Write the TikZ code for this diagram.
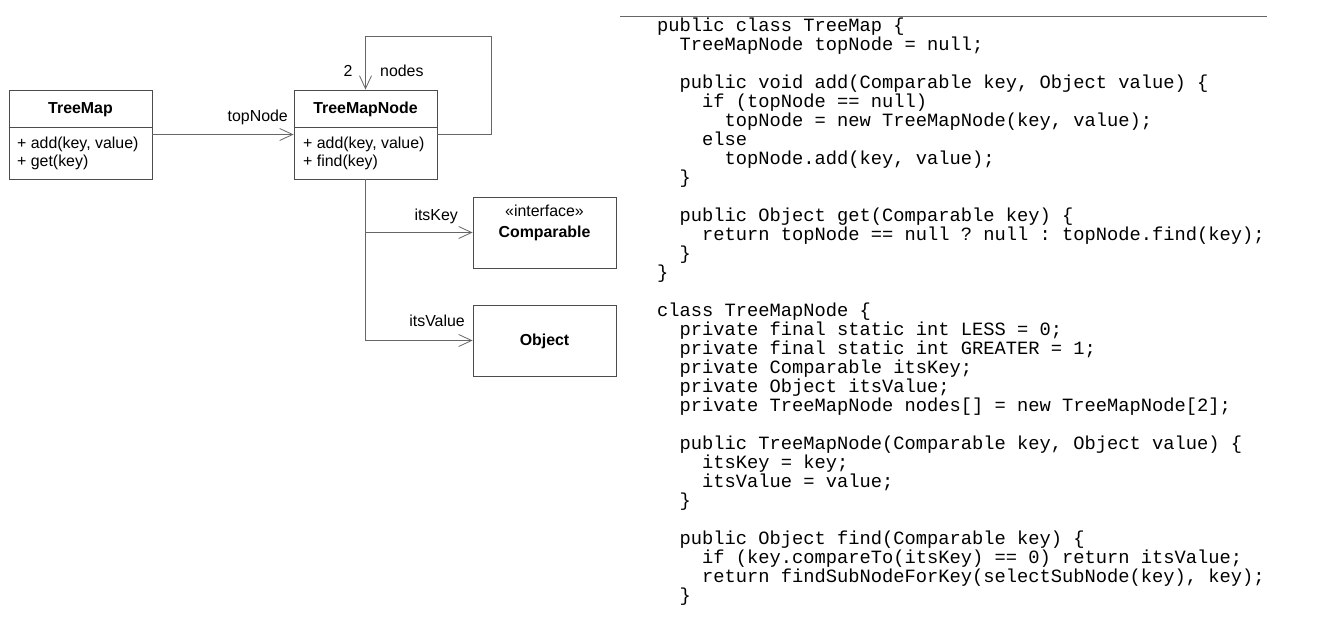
\documentclass[tikz,border=0pt]{standalone}
\usepackage{fontspec}
\setmainfont{Liberation Sans}
\newfontfamily\codefont{Liberation Mono}
\usepackage{tikz}
\usetikzlibrary{arrows.meta,positioning}
\newcommand{\umlcolor}{black!70}
\newcommand{\linecolor}{black!60}

\tikzset{
  classbox/.style={draw=\umlcolor, line width=0.8pt, minimum width=143pt, minimum height=89pt, inner sep=0pt},
  ifacebox/.style={classbox, minimum height=71pt},
  divider/.style={draw=\umlcolor, line width=0.8pt},
  assoc/.style={draw=\linecolor, line width=0.8pt, -{Straight Barb[length=13pt,width=12pt,line width=0.8pt]}},
  umltext/.style={font=\fontsize{15.9}{18}\selectfont, inner sep=0pt},
  umlname/.style={umltext, font=\fontsize{15.9}{18}\selectfont\bfseries},
  codetext/.style={font=\codefont\fontsize{18.75}{19}\selectfont\frenchspacing, inner sep=0pt, align=left}
}

\begin{document}
\begin{tikzpicture}[x=1pt, y=-1pt]
\useasboundingbox (0,0) rectangle (1326,644);
% classes
\node[classbox] (treemap) at (80.5, 134.5) {};
\node[classbox] (tmnode) at (365.5, 134.5) {};
\node[ifacebox] (comparable) at (544.5, 232.5) {};
\node[ifacebox] (object) at (544.5, 340.5) {};
\draw[divider] (treemap.west |- 0,127) -- (treemap.east |- 0,127);
\draw[divider] (tmnode.west |- 0,127) -- (tmnode.east |- 0,127);
\node[umlname, anchor=base] (treemapname) at (80.5, 114) {TreeMap};
\node[umltext, anchor=base west] (treemapadd) at (17, 149) {+ add(key, value)};
\node[umltext, anchor=base west] (treemapget) at (17, 167) {+ get(key)};
\node[umlname, anchor=base] (tmnodename) at (365.5, 114) {TreeMapNode};
\node[umltext, anchor=base west] (tmnodeadd) at (303, 149) {+ add(key, value)};
\node[umltext, anchor=base west] (tmnodefind) at (303, 167) {+ find(key)};
\node[umltext, anchor=base] (stereo) at (544.5, 217) {«interface»};
\node[umlname, anchor=base] (comparablename) at (544.5, 238) {Comparable};
\node[umlname, anchor=base] (objectname) at (544.5, 346) {Object};
% associations
\coordinate (loop) at (491, 36);
\draw[assoc] (treemap.east) -- (tmnode.west);
\draw[assoc] (tmnode.east) -| (loop) -| (tmnode.north);
\draw[assoc] (tmnode.south) |- (comparable.west);
\draw[assoc] (tmnode.south) |- (object.west);
\node[umltext, anchor=base east] (topnodelbl) at (288, 122) {topNode};
\node[umltext, anchor=base] (multlbl) at (348, 77) {2};
\node[umltext, anchor=base west] (nodeslbl) at (380, 77) {nodes};
\node[umltext, anchor=base east] (itskeylbl) at (458, 221) {itsKey};
\node[umltext, anchor=base east] (itsvaluelbl) at (465, 327) {itsValue};
% code listing
\draw[\linecolor, line width=0.8pt] (620, 16) -- (1267, 16);
\node[codetext, anchor=north west] (code) at (657, 18) {%
public class TreeMap \{\\
\ \ TreeMapNode topNode = null;\\
\mbox{}\\
\ \ public void add(Comparable key, Object value) \{\\
\ \ \ \ if (topNode == null)\\
\ \ \ \ \ \ topNode = new TreeMapNode(key, value);\\
\ \ \ \ else\\
\ \ \ \ \ \ topNode.add(key, value);\\
\ \ \}\\
\mbox{}\\
\ \ public Object get(Comparable key) \{\\
\ \ \ \ return topNode == null ? null : topNode.find(key);\\
\ \ \}\\
\}\\
\mbox{}\\
class TreeMapNode \{\\
\ \ private final static int LESS = 0;\\
\ \ private final static int GREATER = 1;\\
\ \ private Comparable itsKey;\\
\ \ private Object itsValue;\\
\ \ private TreeMapNode nodes[] = new TreeMapNode[2];\\
\mbox{}\\
\ \ public TreeMapNode(Comparable key, Object value) \{\\
\ \ \ \ itsKey = key;\\
\ \ \ \ itsValue = value;\\
\ \ \}\\
\mbox{}\\
\ \ public Object find(Comparable key) \{\\
\ \ \ \ if (key.compareTo(itsKey) == 0) return itsValue;\\
\ \ \ \ return findSubNodeForKey(selectSubNode(key), key);\\
\ \ \}};
\end{tikzpicture}
\end{document}
